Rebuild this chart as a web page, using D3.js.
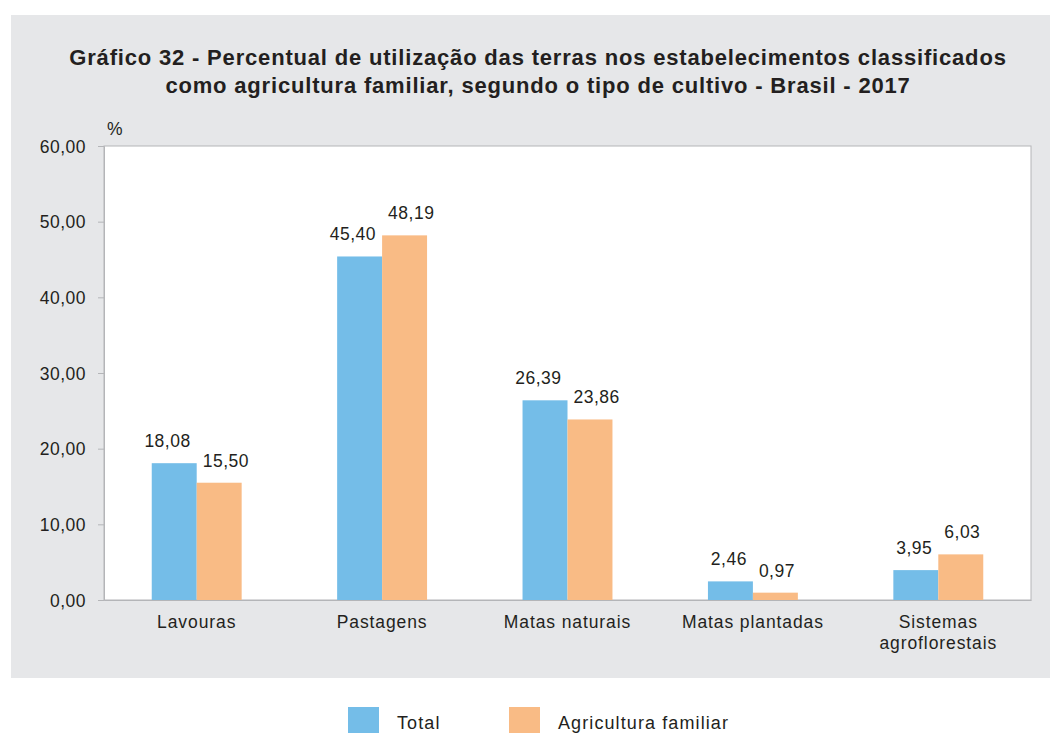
<!DOCTYPE html>
<html><head><meta charset="utf-8">
<script src="https://cdn.jsdelivr.net/npm/d3@7"></script>
<style>body{margin:0;background:#fff}svg{display:block}text{font-family:"Liberation Sans",Arial,sans-serif;fill:#231f20}</style>
</head><body>
<svg id="c" width="1055" height="733"></svg>
<script>
const categories = ["Lavouras","Pastagens","Matas naturais","Matas plantadas","Sistemas agroflorestais"];
const categoryLines = [["Lavouras"],["Pastagens"],["Matas naturais"],["Matas plantadas"],["Sistemas","agroflorestais"]];
const seriesNames = ["Total","Agricultura familiar"];
const totalValues = [18.08,45.40,26.39,2.46,3.95];
const familiarValues = [15.50,48.19,23.86,0.97,6.03];
const yTicks = [0,10,20,30,40,50,60];
const colors = ["#74bde8","#f9bb85"];
const titleLines = ["Gráfico 32 - Percentual de utilização das terras nos estabelecimentos classificados","como agricultura familiar, segundo o tipo de cultivo - Brasil - 2017"];

const FS = 17.5, LS = 0.9;
const fmt = v => d3.format(".2f")(v).replace(".", ",");
const svg = d3.select("#c");
svg.append("rect").attr("x",11).attr("y",15).attr("width",1039).attr("height",663).attr("fill","#e6e7e9");

const m = {l:104, r:1031, t:146, b:600};
svg.append("rect").attr("x",m.l).attr("y",m.t).attr("width",m.r-m.l).attr("height",m.b-m.t).attr("fill","#fff").attr("stroke","#b4b5b8").attr("stroke-width",1);

titleLines.forEach((t,i)=>svg.append("text").attr("x",538).attr("y",65+i*28).attr("text-anchor","middle")
  .attr("font-size",22).attr("letter-spacing",0.82).attr("font-weight","bold").text(t));

const y = d3.scaleLinear().domain([0,60]).range([m.b,m.t]);
const x0 = d3.scaleBand().domain(categories).range([m.l,m.r]).paddingInner(0.515).paddingOuter(0.2575);
const x1 = d3.scaleBand().domain(seriesNames).range([0,x0.bandwidth()]);

const yAxis = svg.append("g").attr("transform",`translate(${m.l},0)`)
  .call(d3.axisLeft(y).tickValues(yTicks).tickFormat(fmt).tickSize(6).tickPadding(12));
yAxis.select(".domain").attr("stroke","#b4b5b8");
yAxis.selectAll(".tick line").attr("stroke","#b4b5b8");
yAxis.selectAll("text").attr("font-size",FS).attr("letter-spacing",0.5).attr("fill","#231f20")
  .attr("font-family","Liberation Sans, Arial, sans-serif").attr("dy","0.36em");

svg.append("text").attr("x",107).attr("y",135).attr("font-size",FS).text("%");

const xAxis = svg.append("g").attr("transform",`translate(0,${m.b})`).call(d3.axisBottom(x0).tickSize(0).tickFormat(""));
xAxis.select(".domain").attr("stroke","#b4b5b8");
categories.forEach((c,i)=>{
  categoryLines[i].forEach((ln,j)=>svg.append("text").attr("x",x0(c)+x0.bandwidth()/2).attr("y",628+j*21)
    .attr("text-anchor","middle").attr("font-size",FS).attr("letter-spacing",LS).text(ln));
});

const data = [totalValues,familiarValues];
seriesNames.forEach((s,si)=>{
  svg.append("g").selectAll("rect").data(categories).join("rect")
    .attr("x",c=>x0(c)+x1(s)).attr("width",x1.bandwidth())
    .attr("y",(c,i)=>y(data[si][i])).attr("height",(c,i)=>y(0)-y(data[si][i]))
    .attr("fill",colors[si]);
});
// value labels, nudged apart horizontally when they would collide
const lblG = svg.append("g");
categories.forEach((c,i)=>{
  const lbls = seriesNames.map((s,si)=>{
    const t = lblG.append("text").attr("text-anchor","middle").attr("font-size",FS).attr("letter-spacing",0.5)
      .text(fmt(data[si][i]));
    return {t, cx:x0(c)+x1(s)+x1.bandwidth()/2, y:y(data[si][i])-16, w:t.node().getComputedTextLength()};
  });
  const [a,b] = lbls;
  if (Math.abs(a.y-b.y) < FS+4) {
    const gap = (b.cx - b.w/2) - (a.cx + a.w/2);
    const need = 12 - gap;
    if (need > 0) { a.cx -= need/2; b.cx += need/2; }
  }
  lbls.forEach(l=>l.t.attr("x",l.cx).attr("y",l.y));
});

const legX = [348,509];
seriesNames.forEach((s,i)=>{
  svg.append("rect").attr("x",legX[i]).attr("y",707).attr("width",31).attr("height",26).attr("fill",colors[i]);
  svg.append("text").attr("x",legX[i]+49).attr("y",729).attr("font-size",FS+0.5).attr("letter-spacing",LS+0.2).text(s);
});
</script>
</body></html>
